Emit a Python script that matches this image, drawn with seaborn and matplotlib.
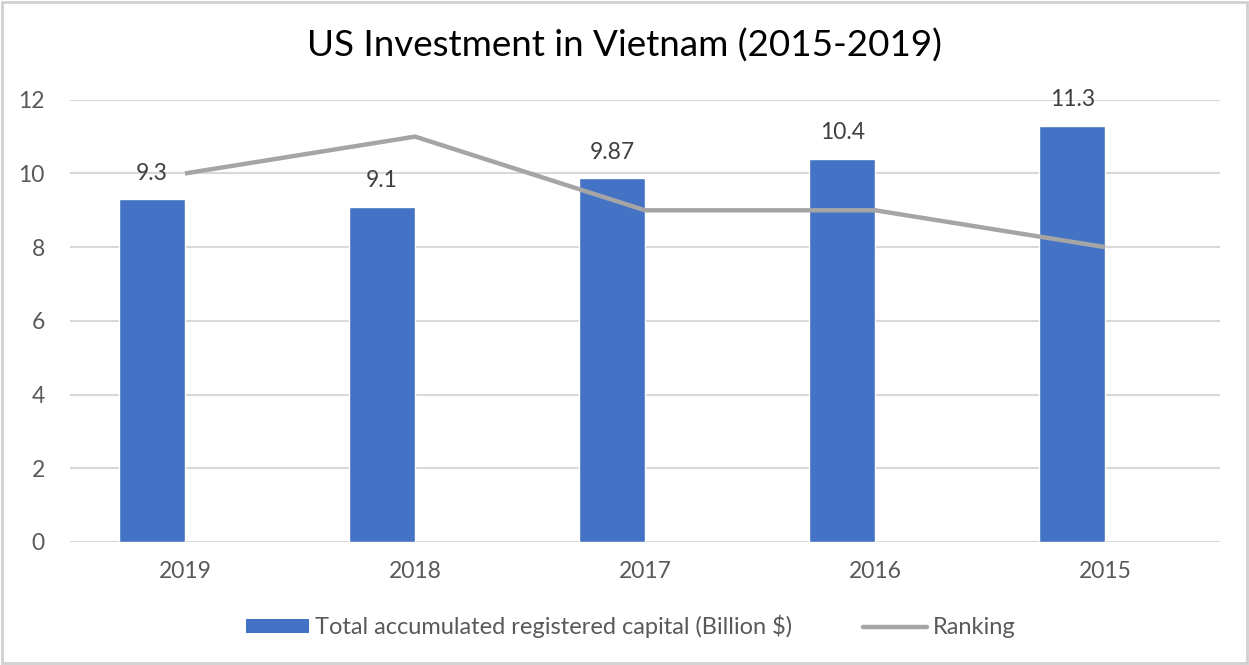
import matplotlib
matplotlib.use("Agg")
import matplotlib.pyplot as plt
import seaborn as sns
import pandas as pd
from matplotlib.patches import Patch, Rectangle
from matplotlib.lines import Line2D

years = ["2019", "2018", "2017", "2016", "2015"]
capital = [9.3, 9.1, 9.87, 10.4, 11.3]
ranking = [10, 11, 9, 9, 8]
capital_labels = ["9.3", "9.1", "9.87", "10.4", "11.3"]

bar_color = "#4472C4"
line_color = "#A5A5A5"
grid_color = "#D9D9D9"
text_color = "#595959"

sns.set_theme(style="white")
plt.rcParams["font.family"] = ["Lato", "DejaVu Sans"]

df = pd.DataFrame({"year": years, "capital": capital, "ranking": ranking})

fig = plt.figure(figsize=(12.49, 6.65), dpi=100)
ax = fig.add_axes([0.056, 0.185, 0.921, 0.665])

bar_w = 0.287
sns.barplot(data=df, x="year", y="capital", order=years, color=bar_color,
            width=bar_w, saturation=1, ax=ax, zorder=2)

# bars sit just left of each category centre, the ranking line on the centre
for p in ax.patches:
    p.set_x(p.get_x() - p.get_width() / 2)

ax.bar_label(ax.containers[0], labels=capital_labels, padding=11,
             fontsize=16.5, color="#404040")

ax.plot(range(len(years)), df["ranking"], color=line_color, lw=3.2,
        solid_capstyle="butt", zorder=3)

ax.set_xlim(-0.5, len(years) - 0.5)
ax.set_ylim(0, 12)
ax.set_yticks(range(0, 13, 2))
ax.yaxis.grid(True, color=grid_color, lw=1.5)
ax.set_axisbelow(True)
for s in ax.spines.values():
    s.set_visible(False)
ax.set_xlabel("")
ax.set_ylabel("")
ax.tick_params(axis="y", length=0, pad=18, labelsize=16.5, labelcolor=text_color)
ax.tick_params(axis="x", length=0, pad=14, labelsize=16.5, labelcolor=text_color)

fig.text(0.5, 0.932, "US Investment in Vietnam (2015-2019)", ha="center",
         va="center", fontsize=26.5, color="#000000")

handles = [Patch(facecolor=bar_color, edgecolor="none"),
           Line2D([], [], color=line_color, lw=3.2)]
fig.legend(handles, ["Total accumulated registered capital (Billion $)", "Ranking"],
           loc="center", bbox_to_anchor=(0.505, 0.058), ncol=2, frameon=False,
           fontsize=17, labelcolor=text_color, handlelength=2.7, handleheight=0.5,
           columnspacing=3.0, handletextpad=0.25)

fig.add_artist(Rectangle((0.002, 0.003), 0.996, 0.994, transform=fig.transFigure,
                         fill=False, edgecolor="#D0D0D0", lw=2))

fig.savefig("out.png", dpi=100)
